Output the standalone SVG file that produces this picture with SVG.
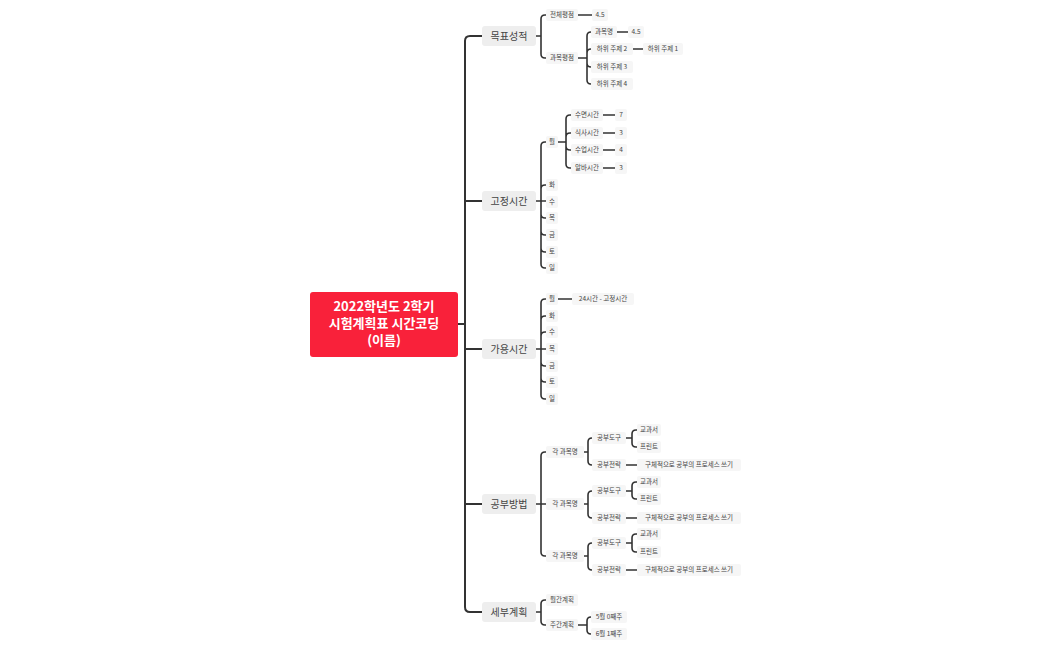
<svg xmlns="http://www.w3.org/2000/svg" width="1050" height="650" viewBox="0 0 1050 650">
<style>
.c{fill:none;stroke:#333;stroke-width:1.6;stroke-linecap:round}
.t{fill:none;stroke:#333;stroke-width:2}
.b1{fill:#eeeeee}
.s{fill:#f6f6f6}
.l1{font-family:"Noto Sans CJK KR","Noto Sans",sans-serif;font-size:10px;fill:#444;text-anchor:middle}
.l2{font-family:"Noto Sans CJK KR","Noto Sans",sans-serif;font-size:6.5px;fill:#444;text-anchor:middle}
.r{font-family:"Noto Sans CJK KR","Noto Sans",sans-serif;font-size:13px;font-weight:bold;fill:#fff;text-anchor:middle}
</style>
<rect width="1050" height="650" fill="#fff"/>
<g id="connectors">
<path class="t" d="M458,324 H465 M482,36 H470 Q465,36 465,41 V607 Q465,612 470,612 H482 M465,201 H482 M465,349 H482 M465,504 H482"/>
<!-- 목표성적 -->
<path class="c" d="M536,36 H541 M541,36 V19 Q541,15 545,15 H546 M541,36 V54 Q541,58 545,58 H546 M578,15 H592"/>
<path class="c" d="M578,58 H587 M587,58 V36 Q587,32 591,32 M587,58 V53 Q587,49 591,49 M587,58 V63 Q587,67 591,67 M587,58 V80 Q587,84 591,84 M617,32 H628 M633,49 H643"/>
<!-- 고정시간 -->
<path class="c" d="M536,201 H541 M541,201 V146 Q541,142 545,142 H546 M541,201 V189 Q541,185 545,185 H546 M541,201 H546 M541,201 V214 Q541,218 545,218 H546 M541,201 V231 Q541,235 545,235 H546 M541,201 V248 Q541,252 545,252 H546 M541,201 V264 Q541,268 545,268 H546"/>
<path class="c" d="M558,142 H566 M566,142 V119 Q566,115 570,115 H571 M566,142 V137 Q566,133 570,133 H571 M566,142 V146 Q566,150 570,150 H571 M566,142 V164 Q566,168 570,168 H571 M603,115 H615 M603,133 H615 M603,150 H615 M603,168 H615"/>
<!-- 가용시간 -->
<path class="c" d="M536,349 H541 M541,349 V303 Q541,299 545,299 H546 M541,349 V320 Q541,316 545,316 H546 M541,349 V336 Q541,332 545,332 H546 M541,349 H546 M541,349 V362 Q541,366 545,366 H546 M541,349 V378 Q541,382 545,382 H546 M541,349 V395 Q541,399 545,399 H546 M558,299 H572"/>
<!-- 공부방법 -->
<path class="c" d="M536,504 H541 M541,504 V456 Q541,452 545,452 H546 M541,504 H546 M541,504 V552 Q541,556 545,556 H546"/>
<path class="c" d="M584,452 H588 M588,452 V442 Q588,438 592,438 M588,452 V461 Q588,465 592,465 M626,438 H632 M632,438 V434 Q632,430 636,430 H637 M632,438 V443 Q632,447 636,447 H637 M626,465 H637"/>
<path class="c" d="M584,504 H588 M588,504 V495 Q588,491 592,491 M588,504 V514 Q588,518 592,518 M626,491 H632 M632,491 V486 Q632,482 636,482 H637 M632,491 V495 Q632,499 636,499 H637 M626,518 H637"/>
<path class="c" d="M584,556 H588 M588,556 V547 Q588,543 592,543 M588,556 V566 Q588,570 592,570 M626,543 H632 M632,543 V538 Q632,534 636,534 H637 M632,543 V548 Q632,552 636,552 H637 M626,570 H637"/>
<!-- 세부계획 -->
<path class="c" d="M536,612 H541 M541,612 V604 Q541,600 545,600 H546 M541,612 V621 Q541,625 545,625 H546 M578,625 H587 M587,625 V621 Q587,617 591,617 M587,625 V630 Q587,634 591,634"/>
</g>
<g id="root"><rect x="310" y="292" width="148" height="65" rx="3" fill="#f9213a"/>
<text class="r" x="384" y="311">2022학년도 2학기</text><text class="r" x="384" y="328">시험계획표 시간코딩</text><text class="r" x="384" y="345">(이름)</text></g>
<g id="b1"><rect class="b1" x="482" y="26" width="54" height="20" rx="3"/><text class="l1" x="509" y="40">목표성적</text></g>
<g id="b2"><rect class="b1" x="482" y="191" width="54" height="20" rx="3"/><text class="l1" x="509" y="205">고정시간</text></g>
<g id="b3"><rect class="b1" x="482" y="339" width="54" height="20" rx="3"/><text class="l1" x="509" y="353">가용시간</text></g>
<g id="b4"><rect class="b1" x="482" y="494" width="54" height="20" rx="3"/><text class="l1" x="509" y="508">공부방법</text></g>
<g id="b5"><rect class="b1" x="482" y="602" width="54" height="20" rx="3"/><text class="l1" x="509" y="616">세부계획</text></g>
<g id="small">
<g id="n1"><rect class="s" x="546" y="9" width="32" height="12" rx="2"/><text class="l2" x="562" y="17.3">전체평점</text></g>
<g id="n2"><rect class="s" x="592" y="9" width="16" height="12" rx="2"/><text class="l2" x="600" y="17.3">4.5</text></g>
<g id="n3"><rect class="s" x="546" y="52" width="32" height="12" rx="2"/><text class="l2" x="562" y="60.3">과목평점</text></g>
<g id="n4"><rect class="s" x="591" y="26" width="26" height="12" rx="2"/><text class="l2" x="604" y="34.3">과목명</text></g>
<g id="n5"><rect class="s" x="628" y="26" width="16" height="12" rx="2"/><text class="l2" x="636" y="34.3">4.5</text></g>
<g id="n6"><rect class="s" x="591" y="43" width="42" height="12" rx="2"/><text class="l2" x="612" y="51.3">하위 주제 2</text></g>
<g id="n7"><rect class="s" x="643" y="43" width="40" height="12" rx="2"/><text class="l2" x="663" y="51.3">하위 주제 1</text></g>
<g id="n8"><rect class="s" x="591" y="61" width="42" height="12" rx="2"/><text class="l2" x="612" y="69.3">하위 주제 3</text></g>
<g id="n9"><rect class="s" x="591" y="78" width="42" height="12" rx="2"/><text class="l2" x="612" y="86.3">하위 주제 4</text></g>

<g id="f1"><rect class="s" x="546" y="136" width="12" height="12" rx="2"/><text class="l2" x="552" y="144.3">월</text></g>
<g id="f2"><rect class="s" x="546" y="179" width="12" height="12" rx="2"/><text class="l2" x="552" y="187.3">화</text></g>
<g id="f3"><rect class="s" x="546" y="196" width="12" height="12" rx="2"/><text class="l2" x="552" y="204.3">수</text></g>
<g id="f4"><rect class="s" x="546" y="212" width="12" height="12" rx="2"/><text class="l2" x="552" y="220.3">목</text></g>
<g id="f5"><rect class="s" x="546" y="229" width="12" height="12" rx="2"/><text class="l2" x="552" y="237.3">금</text></g>
<g id="f6"><rect class="s" x="546" y="246" width="12" height="12" rx="2"/><text class="l2" x="552" y="254.3">토</text></g>
<g id="f7"><rect class="s" x="546" y="262" width="12" height="12" rx="2"/><text class="l2" x="552" y="270.3">일</text></g>
<g id="f8"><rect class="s" x="571" y="109" width="32" height="12" rx="2"/><text class="l2" x="587" y="117.3">수면시간</text></g>
<g id="f9"><rect class="s" x="571" y="127" width="32" height="12" rx="2"/><text class="l2" x="587" y="135.3">식사시간</text></g>
<g id="f10"><rect class="s" x="571" y="144" width="32" height="12" rx="2"/><text class="l2" x="587" y="152.3">수업시간</text></g>
<g id="f11"><rect class="s" x="571" y="162" width="32" height="12" rx="2"/><text class="l2" x="587" y="170.3">알바시간</text></g>
<g id="f12"><rect class="s" x="615" y="109" width="12" height="12" rx="2"/><text class="l2" x="621" y="117.3">7</text></g>
<g id="f13"><rect class="s" x="615" y="127" width="12" height="12" rx="2"/><text class="l2" x="621" y="135.3">3</text></g>
<g id="f14"><rect class="s" x="615" y="144" width="12" height="12" rx="2"/><text class="l2" x="621" y="152.3">4</text></g>
<g id="f15"><rect class="s" x="615" y="162" width="12" height="12" rx="2"/><text class="l2" x="621" y="170.3">3</text></g>

<g id="a1"><rect class="s" x="546" y="293" width="12" height="12" rx="2"/><text class="l2" x="552" y="301.3">월</text></g>
<g id="a2"><rect class="s" x="546" y="310" width="12" height="12" rx="2"/><text class="l2" x="552" y="318.3">화</text></g>
<g id="a3"><rect class="s" x="546" y="326" width="12" height="12" rx="2"/><text class="l2" x="552" y="334.3">수</text></g>
<g id="a4"><rect class="s" x="546" y="343" width="12" height="12" rx="2"/><text class="l2" x="552" y="351.3">목</text></g>
<g id="a5"><rect class="s" x="546" y="360" width="12" height="12" rx="2"/><text class="l2" x="552" y="368.3">금</text></g>
<g id="a6"><rect class="s" x="546" y="376" width="12" height="12" rx="2"/><text class="l2" x="552" y="384.3">토</text></g>
<g id="a7"><rect class="s" x="546" y="393" width="12" height="12" rx="2"/><text class="l2" x="552" y="401.3">일</text></g>
<g id="a8"><rect class="s" x="572" y="293" width="62" height="12" rx="2"/><text class="l2" x="603" y="301.3">24시간 - 고정시간</text></g>

<g id="p1"><rect class="s" x="546" y="446" width="38" height="12" rx="2"/><text class="l2" x="565" y="454.3">각 과목명</text></g>
<g id="p2"><rect class="s" x="592" y="432" width="34" height="12" rx="2"/><text class="l2" x="609" y="440.3">공부도구</text></g>
<g id="p3"><rect class="s" x="592" y="459" width="34" height="12" rx="2"/><text class="l2" x="609" y="467.3">공부전략</text></g>
<g id="p4"><rect class="s" x="637" y="424" width="24" height="12" rx="2"/><text class="l2" x="649" y="432.3">교과서</text></g>
<g id="p5"><rect class="s" x="637" y="441" width="24" height="12" rx="2"/><text class="l2" x="649" y="449.3">프린트</text></g>
<g id="p6"><rect class="s" x="637" y="459" width="104" height="12" rx="2"/><text class="l2" x="689" y="467.3">구체적으로 공부의 프로세스 쓰기</text></g>

<g id="p7"><rect class="s" x="546" y="498" width="38" height="12" rx="2"/><text class="l2" x="565" y="506.3">각 과목명</text></g>
<g id="p8"><rect class="s" x="592" y="485" width="34" height="12" rx="2"/><text class="l2" x="609" y="493.3">공부도구</text></g>
<g id="p9"><rect class="s" x="592" y="512" width="34" height="12" rx="2"/><text class="l2" x="609" y="520.3">공부전략</text></g>
<g id="p10"><rect class="s" x="637" y="476" width="24" height="12" rx="2"/><text class="l2" x="649" y="484.3">교과서</text></g>
<g id="p11"><rect class="s" x="637" y="493" width="24" height="12" rx="2"/><text class="l2" x="649" y="501.3">프린트</text></g>
<g id="p12"><rect class="s" x="637" y="512" width="104" height="12" rx="2"/><text class="l2" x="689" y="520.3">구체적으로 공부의 프로세스 쓰기</text></g>

<g id="p13"><rect class="s" x="546" y="550" width="38" height="12" rx="2"/><text class="l2" x="565" y="558.3">각 과목명</text></g>
<g id="p14"><rect class="s" x="592" y="537" width="34" height="12" rx="2"/><text class="l2" x="609" y="545.3">공부도구</text></g>
<g id="p15"><rect class="s" x="592" y="564" width="34" height="12" rx="2"/><text class="l2" x="609" y="572.3">공부전략</text></g>
<g id="p16"><rect class="s" x="637" y="528" width="24" height="12" rx="2"/><text class="l2" x="649" y="536.3">교과서</text></g>
<g id="p17"><rect class="s" x="637" y="546" width="24" height="12" rx="2"/><text class="l2" x="649" y="554.3">프린트</text></g>
<g id="p18"><rect class="s" x="637" y="564" width="104" height="12" rx="2"/><text class="l2" x="689" y="572.3">구체적으로 공부의 프로세스 쓰기</text></g>

<g id="d1"><rect class="s" x="546" y="594" width="32" height="12" rx="2"/><text class="l2" x="562" y="602.3">월간계획</text></g>
<g id="d2"><rect class="s" x="546" y="619" width="32" height="12" rx="2"/><text class="l2" x="562" y="627.3">주간계획</text></g>
<g id="d3"><rect class="s" x="591" y="611" width="36" height="12" rx="2"/><text class="l2" x="609" y="619.3">5월 0째주</text></g>
<g id="d4"><rect class="s" x="591" y="628" width="36" height="12" rx="2"/><text class="l2" x="609" y="636.3">6월 1째주</text></g>
</g>
</svg>
